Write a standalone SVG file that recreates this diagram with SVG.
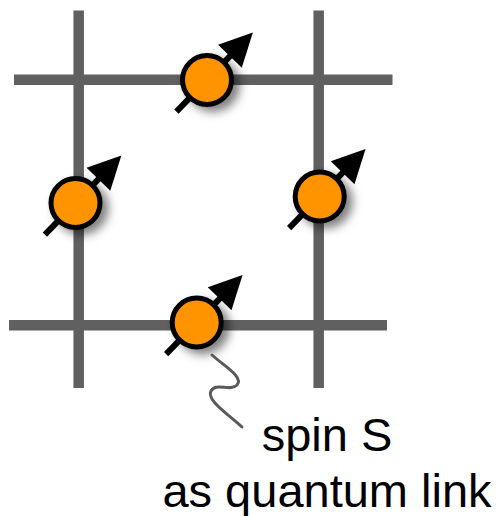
<svg xmlns="http://www.w3.org/2000/svg" xmlns:xlink="http://www.w3.org/1999/xlink" width="500" height="516" viewBox="0 0 500 516">
  <defs>
    <style>
      .grid { stroke: #606060; stroke-width: 10.5; fill: none; stroke-linecap: butt; }
      .spin { fill: #ff9400; stroke: #000; stroke-width: 5; }
      .shaft { stroke: #000; stroke-width: 6; fill: none; }
      .head { fill: #000; }
      .label { font-family: "Liberation Sans", Arial, Helvetica, sans-serif; font-size: 47px; fill: #000; text-anchor: middle; }
      .squiggle { stroke: #5a5a5a; stroke-width: 3; fill: none; stroke-linecap: round; }
    </style>
    <filter id="shadow" x="-60%" y="-60%" width="220%" height="220%">
      <feDropShadow dx="6" dy="5" stdDeviation="5" flood-color="#000" flood-opacity="0.5"/>
    </filter>
    <g id="spinArrow">
      <line class="shaft" x1="-44" y1="0" x2="38" y2="0"/>
      <polygon class="head" points="66,0 33,-16.5 33,16.5"/>
    </g>
  </defs>

  <g id="grid">
    <line class="grid" x1="78.7" y1="10.5" x2="78.7" y2="388"/>
    <line class="grid" x1="318.7" y1="10.5" x2="318.7" y2="388"/>
    <line class="grid" x1="14" y1="79.7" x2="392.5" y2="79.7"/>
    <line class="grid" x1="9" y1="325.3" x2="387" y2="325.3"/>
  </g>

  <g id="spin-top">
    <use xlink:href="#spinArrow" transform="translate(207,80) rotate(-46)"/>
    <circle class="spin" cx="207" cy="80" r="24.5" filter="url(#shadow)"/>
  </g>
  <g id="spin-left">
    <use xlink:href="#spinArrow" transform="translate(75.5,203) rotate(-46)"/>
    <circle class="spin" cx="75.5" cy="203" r="24.5" filter="url(#shadow)"/>
  </g>
  <g id="spin-right">
    <use xlink:href="#spinArrow" transform="translate(319.7,196.5) rotate(-46)"/>
    <circle class="spin" cx="319.7" cy="196.5" r="24.5" filter="url(#shadow)"/>
  </g>
  <g id="spin-bottom">
    <use xlink:href="#spinArrow" transform="translate(196.7,322.5) rotate(-46)"/>
    <circle class="spin" cx="196.7" cy="322.5" r="24.5" filter="url(#shadow)"/>
  </g>

  <g id="connectors">
    <path class="squiggle" d="M212,355 C224,366 244,377 237,385 C230,392 216,382 211,391 C206,400 228,414 242,427"/>
  </g>

  <g id="label">
    <text class="label" x="327" y="450.5">spin S</text>
    <text class="label" x="327" y="506.5">as quantum link</text>
  </g>
</svg>
